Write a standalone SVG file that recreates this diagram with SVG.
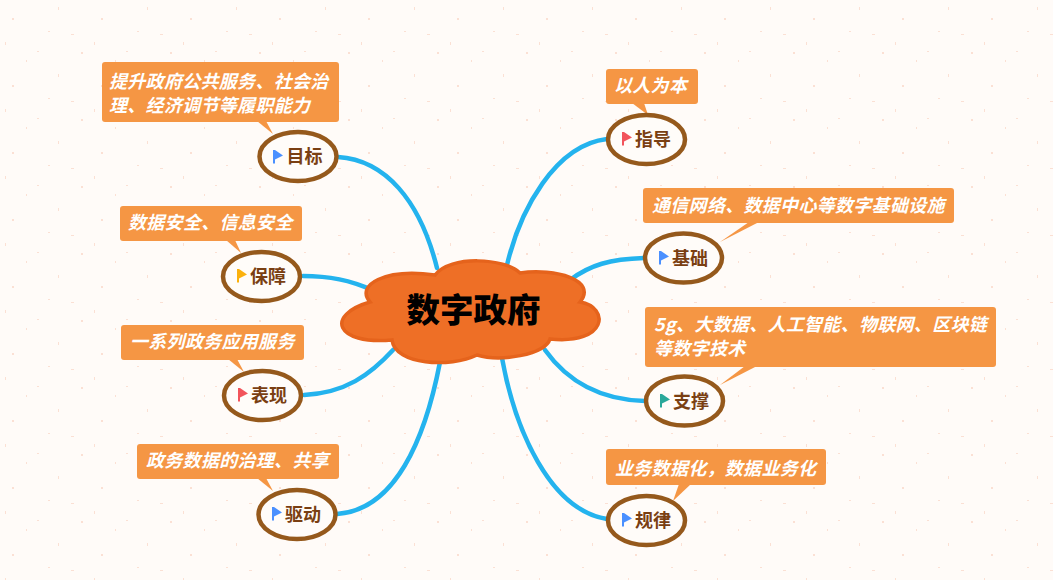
<svg xmlns="http://www.w3.org/2000/svg" width="1053" height="580" viewBox="0 0 1053 580">
<style>
.link{fill:none;stroke:#24b3ee;stroke-width:4.500;stroke-linecap:round}
.oval{fill:#fffcf9;stroke:#95591c;stroke-width:4.500}
.call{fill:#f59644}
.note{font:italic 700 18px "Noto Sans CJK SC","Liberation Sans",sans-serif;fill:#fff;letter-spacing:.3px}
.label{font:700 18px "Noto Sans CJK SC","Liberation Sans",sans-serif;fill:#7a3f12}
.title{font:900 33.500px "Noto Sans CJK SC","Liberation Sans",sans-serif;fill:#000}
</style>
<defs>
<path id="flag" d="M0 -1H2L10 4.500L2 8.500V12.500H0Z"/>
<pattern id="specks" width="89" height="67" patternUnits="userSpaceOnUse">
<g fill="#fbe0d4">
<rect x="12" y="18" width="2" height="2"/><rect x="58" y="7" width="1" height="3"/><rect x="71" y="34" width="3" height="1"/><rect x="81" y="52" width="2" height="2"/><rect x="37" y="51" width="2" height="1"/><rect x="26" y="60" width="1" height="2"/><rect x="5" y="42" width="1" height="3"/><rect x="48" y="31" width="2" height="1"/>
</g>
</pattern>
</defs>
<rect width="1053" height="580" fill="#fffbf8"/>
<rect width="1053" height="580" fill="url(#specks)"/>
<g id="connectors">
<path class="link" d="M338 157C385 160 420 200 437 268"/>
<path class="link" d="M303 276C330 276 350 280 372 290"/>
<path class="link" d="M304 395C345 393 370 375 393 350"/>
<path class="link" d="M337 514C395 510 425 440 440 362"/>
<path class="link" d="M507 265C520 210 555 145 607 139"/>
<path class="link" d="M570 280C590 265 610 259 644 258"/>
<path class="link" d="M545 350C570 385 605 400 645 401"/>
<path class="link" d="M502 358C515 430 550 510 607 519"/>
</g>
<g id="center">
<path d="M370 302C355 285 385 268 435 275C450 255 505 258 520 273C555 268 598 280 580 302C610 307 608 345 550 339C545 355 500 362 477 355C450 368 395 365 392 340C335 345 325 315 370 302Z" fill="#ee6f26" stroke="#e5631c" stroke-width="3.500"/>
<text class="title" x="473.500" y="322" text-anchor="middle">数字政府</text>
</g>
<g id="goal">
<path class="call" d="M257 121H266L273 134Z"/><rect class="call" x="102" y="62" width="237" height="60" rx="3"/>
<text class="note" x="109" y="88">提升政府公共服务、社会治</text><text class="note" x="109" y="112">理、经济调节等履职能力</text>
<ellipse class="oval" cx="298" cy="156.500" rx="38.500" ry="24.500"/>
<use href="#flag" x="273" y="151" fill="#4a90ff"/><text class="label" x="286.500" y="163">目标</text>
</g>
<g id="guard">
<path class="call" d="M226 240H235L241 253Z"/><rect class="call" x="120" y="206" width="182" height="35" rx="3"/>
<text class="note" x="128" y="229">数据安全、信息安全</text>
<ellipse class="oval" cx="261.500" cy="276.500" rx="38.500" ry="24.500"/>
<use href="#flag" x="237" y="270" fill="#fbb10d"/><text class="label" x="250" y="283">保障</text>
</g>
<g id="show">
<path class="call" d="M228 359H237L244 372Z"/><rect class="call" x="121" y="325" width="183" height="35" rx="3"/>
<text class="note" x="130" y="348">一系列政务应用服务</text>
<ellipse class="oval" cx="262.500" cy="395.500" rx="38.500" ry="24.500"/>
<use href="#flag" x="238" y="389" fill="#f2545b"/><text class="label" x="251" y="402">表现</text>
</g>
<g id="drive">
<path class="call" d="M257 478H266L273 491Z"/><rect class="call" x="137" y="444" width="202" height="35" rx="3"/>
<text class="note" x="146" y="467">政务数据的治理、共享</text>
<ellipse class="oval" cx="297" cy="514.500" rx="38.500" ry="24.500"/>
<use href="#flag" x="272" y="508" fill="#4a90ff"/><text class="label" x="285" y="521">驱动</text>
</g>
<g id="guide">
<path class="call" d="M632 103H644L648 115Z"/><rect class="call" x="606" y="69" width="92" height="35" rx="3"/>
<text class="note" x="614" y="92">以人为本</text>
<ellipse class="oval" cx="646.500" cy="139.500" rx="38.500" ry="24.500"/>
<use href="#flag" x="622" y="133" fill="#f2545b"/><text class="label" x="635" y="146">指导</text>
</g>
<g id="base">
<path class="call" d="M749 222H759L720 242Z"/><rect class="call" x="643" y="188" width="311" height="35" rx="3"/>
<text class="note" x="652" y="212">通信网络、数据中心等数字基础设施</text>
<ellipse class="oval" cx="683.500" cy="258" rx="38.500" ry="24.500"/>
<use href="#flag" x="659" y="252" fill="#4a90ff"/><text class="label" x="672" y="265">基础</text>
</g>
<g id="support">
<path class="call" d="M745 366H757L720 385Z"/><rect class="call" x="645" y="307" width="351" height="60" rx="3"/>
<text class="note" x="654" y="331">5g、大数据、人工智能、物联网、区块链</text><text class="note" x="654" y="355">等数字技术</text>
<ellipse class="oval" cx="684.500" cy="401" rx="38.500" ry="24.500"/>
<use href="#flag" x="660" y="395" fill="#2aa89a"/><text class="label" x="673" y="408">支撑</text>
</g>
<g id="rule">
<path class="call" d="M679 484H691L673 501Z"/><rect class="call" x="606" y="449" width="220" height="36" rx="3"/>
<text class="note" x="615" y="475">业务数据化，数据业务化</text>
<ellipse class="oval" cx="646.500" cy="520.500" rx="38.500" ry="24.500"/>
<use href="#flag" x="622" y="514" fill="#4a90ff"/><text class="label" x="635" y="527">规律</text>
</g>
</svg>
